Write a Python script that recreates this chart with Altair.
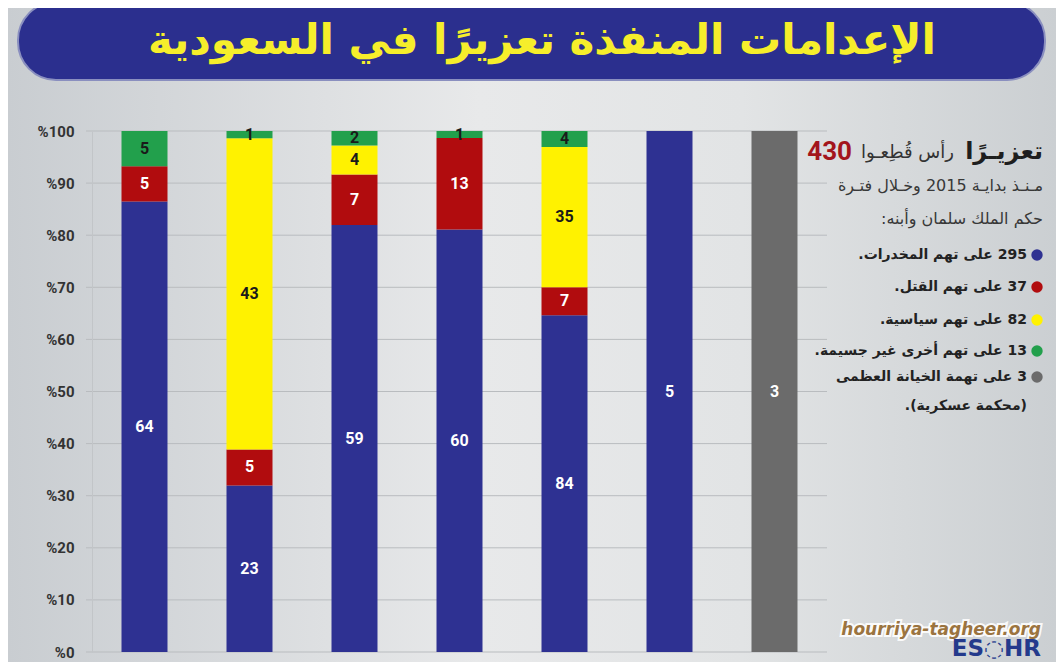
import altair as alt
import pandas as pd

# ---------------- data ----------------
columns = ["1", "2", "3", "4", "5", "6", "7"]
categories = ["drugs", "murder", "political", "other", "treason"]
drugs = [64, 23, 59, 60, 84, 5, 0]
murder = [5, 5, 7, 13, 7, 0, 0]
political = [0, 43, 4, 0, 35, 0, 0]
other = [5, 1, 2, 1, 4, 0, 0]
treason = [0, 0, 0, 0, 0, 0, 3]
tick_values = [0, 0.1, 0.2, 0.3, 0.4, 0.5, 0.6, 0.7, 0.8, 0.9, 1.0]
bar_colors = ["#2e3192", "#b10c0e", "#fff200", "#22a04c", "#6b6b6b"]

title_text = "الإعدامات المنفذة تعزيرًا في السعودية"
headline_total = "430"
headline_mid = "رأس قُطِعـوا"
headline_bold = "تعزيـرًا"
intro_lines = ["مـنـذ بدايـة 2015 وخـلال فتـرة", "حكم الملك سلمان وأبنه:"]
legend_counts = [295, 37, 82, 13, 3]
legend_labels = ["على تهم المخدرات.", "على تهم القتل.", "على تهم سياسية.",
                 "على تهم أخرى غير جسيمة.", "على تهمة الخيانة العظمى"]
legend_extra = "(محكمة عسكرية)."
site_text = "hourriya-tagheer.org"
logo_text = "ES◌HR"

series = [drugs, murder, political, other, treason]
rows = []
for ci, cat in enumerate(categories):
    for col, v in zip(columns, series[ci]):
        if v > 0:
            rows.append({"col": col, "cat": cat, "ord": ci, "v": v})
df = pd.DataFrame(rows)
ticks_df = pd.DataFrame({"t": tick_values})
one = pd.DataFrame({"a": [0]})

W, H = 735, 521
AR = "DejaVu Sans"
NUM = "Roboto"


def rtl(s):
    return "\u202b" + s + "\u202c"


def txt(s, x, y, size, color, weight="normal", align="right", font=AR,
        style="normal", **kw):
    return alt.Chart(one).mark_text(
        text=s, align=align, baseline="middle", fontSize=size, font=font,
        fontWeight=weight, fontStyle=style, color=color, **kw
    ).encode(x=alt.value(x), y=alt.value(y))


y_scale = alt.Scale(domain=[0, 1], nice=False, zero=True)
y_axis = alt.Axis(values=tick_values, labelExpr="'%' + round(datum.value*100)",
                  grid=False, ticks=False, domain=True, domainColor="#c2c5c8",
                  labelPadding=18, labelFont=NUM, labelFontSize=15,
                  labelFontWeight="bold", labelColor="#333333", title=None,
                  zindex=1)
x_enc = alt.X("col:N", sort=columns, axis=None,
              scale=alt.Scale(paddingInner=0.562, paddingOuter=0.281))

# background
grad = alt.Gradient(gradient="linear", x1=0, x2=1, y1=0, y2=0, stops=[
    alt.GradientStop(color="#c9cdd1", offset=0),
    alt.GradientStop(color="#e8e9ea", offset=0.45),
    alt.GradientStop(color="#e2e4e5", offset=0.7),
    alt.GradientStop(color="#cbcfd2", offset=1)])
bg = alt.Chart(one).mark_rect(color=grad).encode(
    x=alt.value(-84), x2=alt.value(964), y=alt.value(-123), y2=alt.value(531))

# banner
banner = alt.Chart(one).mark_rect(color="#2b2f8e", cornerRadius=38,
                                  stroke="#8a8fbf", strokeWidth=2).encode(
    x=alt.value(-74), x2=alt.value(953), y=alt.value(-129), y2=alt.value(-51))
title = txt(rtl(title_text), 450, -90, 42, "#f6ee2b", weight="bold", align="center")

# grid
grid = alt.Chart(ticks_df).mark_rule(color="#b9bcbf", strokeWidth=1).encode(
    y=alt.Y("t:Q", scale=y_scale, axis=y_axis),
    x=alt.value(-6), x2=alt.value(W))

stacked = alt.Chart(df).transform_stack(
    stack="v", as_=["y0", "y1"], groupby=["col"], offset="normalize",
    sort=[alt.SortField("ord", order="ascending")]
).transform_calculate(mid="(datum.y0 + datum.y1) / 2")

bars = stacked.mark_bar().encode(
    x=x_enc,
    y=alt.Y("y0:Q", scale=y_scale, axis=y_axis),
    y2="y1:Q",
    color=alt.Color("cat:N", scale=alt.Scale(domain=categories, range=bar_colors),
                    legend=None))

labels_light = stacked.transform_filter(
    alt.FieldOneOfPredicate(field="cat", oneOf=["drugs", "murder", "treason"])
).mark_text(font=NUM, fontSize=16, fontWeight="bold", color="#ffffff",
            baseline="middle").encode(
    x=x_enc, y=alt.Y("mid:Q", scale=y_scale, axis=y_axis), text="v:Q")
labels_dark = stacked.transform_filter(
    alt.FieldOneOfPredicate(field="cat", oneOf=["political", "other"])
).mark_text(font=NUM, fontSize=16, fontWeight="bold", color="#1a1a1a",
            baseline="middle").encode(
    x=x_enc, y=alt.Y("mid:Q", scale=y_scale, axis=y_axis), text="v:Q")

# side text
side = [
    txt(headline_total, 760, 21, 26, "#a3151c", weight="bold", font=NUM),
    txt(rtl(headline_mid), 862, 22, 18, "#333333"),
    txt(rtl(headline_bold), 951, 21, 24, "#1e1e1e", weight="bold"),
    txt(rtl(intro_lines[0]), 951, 55, 16, "#383838"),
    txt(rtl(intro_lines[1]), 951, 88, 16, "#383838"),
]
legend_y = [124, 156, 189, 220, 246]
for i, (c, lab) in enumerate(zip(legend_counts, legend_labels)):
    side.append(alt.Chart(one).mark_circle(size=130, opacity=1,
                                           color=bar_colors[i]).encode(
        x=alt.value(945), y=alt.value(legend_y[i])))
    side.append(txt(rtl(f"{c} {lab}"), 935, legend_y[i], 14, "#222222",
                    weight="bold"))
side.append(txt(rtl(legend_extra), 935, 275, 14, "#222222", weight="bold"))

site_glow = txt(site_text, 949, 499, 17, "#ffffff", weight="bold", style="italic",
                font="DejaVu Sans", stroke="#ffffff", strokeWidth=4,
                strokeOpacity=0.9)
site = txt(site_text, 949, 499, 17, "#9b7440", weight="bold", style="italic",
           font="DejaVu Sans")
logo = txt(logo_text, 949, 518, 23, "#243a8c", weight="bold", font="DejaVu Sans")

chart = alt.layer(
    bg, banner, title, grid, bars, labels_light, labels_dark, *side,
    site_glow, site, logo
).properties(
    width=W, height=H, autosize="none",
    padding={"left": 84, "top": 123, "right": 229, "bottom": 10},
    background="#d6d9dc"
).configure_view(stroke=None)

chart.save("out.html", embed_options={"renderer": "svg", "actions": False})
